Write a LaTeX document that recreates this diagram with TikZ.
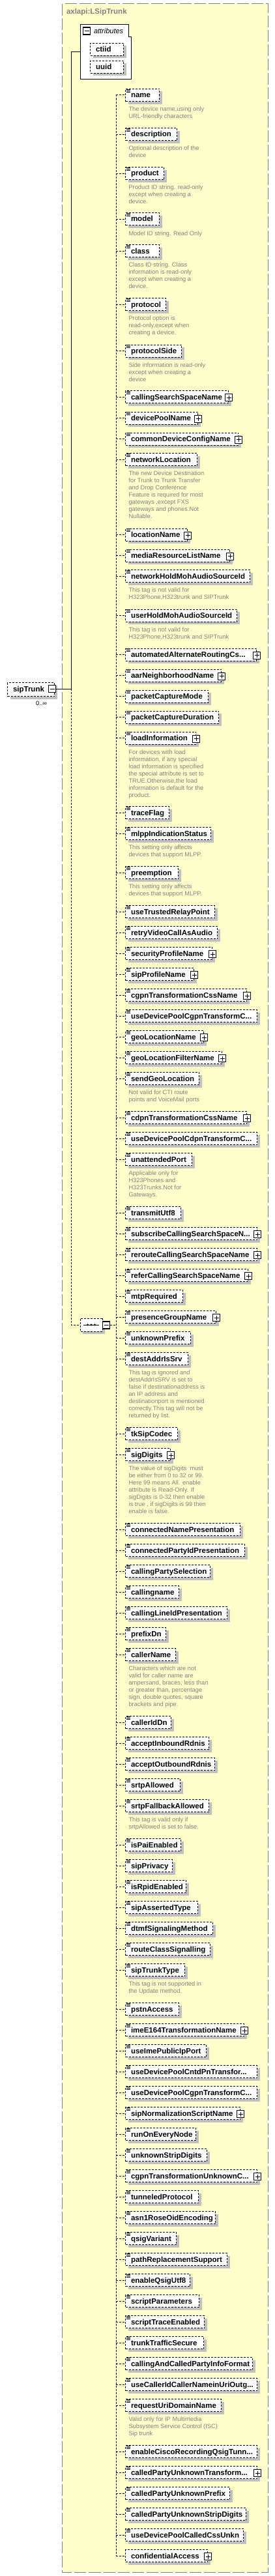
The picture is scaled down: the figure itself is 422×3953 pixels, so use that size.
\documentclass[tikz,border=0pt]{standalone}
\usepackage{fontspec}
\setmainfont{Liberation Sans}
\usetikzlibrary{positioning,shadows,shapes.misc,calc}
\definecolor{xsdYellow}{HTML}{FFFFCC}
\definecolor{xsdFrame}{HTML}{808080}
\definecolor{xsdShadow}{HTML}{C0C0C0}
\definecolor{xsdDoc}{HTML}{808080}
\newcommand{\xsdcut}{...}

\begin{document}
\begin{tikzpicture}[x=1pt,y=-1pt,line width=1pt]
  \tikzset{
    elem/.style={draw,dash pattern=on 3pt off 2pt,fill=white,anchor=north west,
      inner xsep=8.5pt,inner ysep=0pt,minimum height=19pt,text height=9pt,text depth=1.4pt,
      font=\bfseries\fontsize{11.5}{13}\selectfont,
      drop shadow={fill=xsdShadow,opacity=1,shadow xshift=4pt,shadow yshift=-4pt}},
    doc/.style={anchor=north west,inner sep=0pt,align=left,text=xsdDoc,
      font=\fontsize{9.3}{11}\selectfont,execute at begin node=\strut},
    signbox/.style={draw,solid,fill=white,minimum size=11pt,inner sep=0pt,line width=1.2pt},
    link/.style={dash pattern=on 3pt off 2pt},
    title/.style={anchor=west,inner sep=0pt,text=xsdFrame,font=\bfseries\fontsize{11.5}{13}\selectfont}
  }
  \useasboundingbox (0,0) rectangle (422,3953);
  % complex type frame
  \draw[xsdFrame,fill=xsdYellow,dash pattern=on 18pt off 4pt] (95.5,6) rectangle (411.5,3947);
  \node[title] (ttl) at (101.5,19) {axlapi:LSipTrunk};

  % attributes group
  \draw[fill=white] (123,38) -| (197,57) -| (201,122) -- (123,122) -- cycle;
  \coordinate (attr) at (123,80);
  \node[signbox] (am) at (133,47.5) {};
  \draw (am.center) ++(-3.5,0) -- ++(7,0);
  \node[anchor=west,inner sep=0pt,font=\itshape\fontsize{11}{13}\selectfont] (atl) at (143.5,48) {attributes};
  \node[elem] (a1) at (138,66) {\makebox[34pt][l]{ctiid}};
  \node[elem] (a2) at (138,92.7) {\makebox[34pt][l]{uuid}};

  % the element
  \node[elem,minimum height=21pt] (tm) at (11,1047) {\makebox[55pt][l]{sipTrunk}};
  \node[signbox] (tmm) at (80,1057) {};
  \draw (tmm.center) ++(-3.5,0) -- ++(7,0);
  \node[font=\fontsize{9.3}{11}\selectfont,inner sep=0pt] (card) at (63.5,1079) {0..∞};

  % sequence
  \node[draw,link,fill=white,chamfered rectangle,chamfered rectangle xsep=5pt,chamfered rectangle ysep=5pt,
    minimum width=34pt,minimum height=20pt,inner sep=0pt,
    drop shadow={fill=xsdShadow,opacity=1,shadow xshift=4pt,shadow yshift=-4pt}] (seq) at (140,2033) {};
  \draw (seq.center) ++(-12,0) -- ++(24,0);
  \foreach \d in {-5.5,0,5.5} \fill (seq.center) ++(\d,0) circle (1.6);
  \node[signbox] (sm) at (163,2033.5) {};
  \draw (sm.center) ++(-3.5,0) -- ++(7,0);

  \coordinate (trunk) at (109,0);
  \coordinate (bus) at (178,0);
  \draw (attr) -- (attr -| trunk) -- (tmm.east -| trunk) -- (tmm.east);
  \draw[link] (tmm.east -| trunk) |- (seq.west);
  \draw[link] (sm.east) -- (sm.east -| bus);
  \draw[link] (bus |- 0,145.5) -- (bus |- 0,3922);

  % child elements
  \foreach \t/\r/\p/\txt [count=\k] in {
    136/244/0/name, 196/271/0/description, 256/251/0/product, 326/244/0/model,
    375.3/244/0/class, 457.3/254/0/protocol, 528.7/278/0/protocolSide,
    599.3/350/1/callingSearchSpaceName, 631.7/303/1/devicePoolName,
    663.7/365/1/commonDeviceConfigName, 695.3/302/0/networkLocation,
    810.7/287/1/locationName, 842.7/352/1/mediaResourceListName,
    874.3/383/0/networkHoldMohAudioSourceId, 934.7/363/0/userHoldMohAudioSourceId,
    994.7/393/1/automatedAlternateRoutingCs\xsdcut, 1026.7/339/1/aarNeighborhoodName,
    1058.7/319/0/packetCaptureMode, 1090.7/335/0/packetCaptureDuration,
    1122.7/300/1/loadInformation, 1237.3/259/0/traceFlag, 1269.3/323/0/mlppIndicationStatus,
    1329.3/273/0/preemption, 1389.3/329/0/useTrustedRelayPoint,
    1421.3/333/0/retryVideoCallAsAudio, 1453.3/325/1/securityProfileName,
    1485.3/297/1/sipProfileName, 1517.3/378/1/cgpnTransformationCssName,
    1549.3/394/0/useDevicePoolCgpnTransformC\xsdcut, 1581.3/312/1/geoLocationName,
    1613.3/340/1/geoLocationFilterName, 1645.3/305/0/sendGeoLocation,
    1705.3/378/1/cdpnTransformationCssName, 1737.3/394/0/useDevicePoolCdpnTransformC\xsdcut,
    1769.3/294/0/unattendedPort, 1851.3/277/0/transmitUtf8,
    1883.3/394/1/subscribeCallingSearchSpaceN\xsdcut, 1915.3/394/1/rerouteCallingSearchSpaceName,
    1947.3/380/1/referCallingSearchSpaceName, 1979.3/280/0/mtpRequired,
    2011.3/331/1/presenceGroupName, 2043.3/292/0/unknownPrefix, 2075.3/288/0/destAddrIsSrv,
    2190.3/272/0/tkSipCodec, 2222.3/261/1/sigDigits,
    2337.3/368/0/connectedNamePresentation, 2369.3/375/0/connectedPartyIdPresentation,
    2401.3/322/0/callingPartySelection, 2433.3/274/0/callingname,
    2465.3/348/0/callingLineIdPresentation, 2497.3/254/0/prefixDn, 2529.3/269/0/callerName,
    2633.3/262/0/callerIdDn, 2665.3/320/0/acceptInboundRdnis, 2697.3/329/0/acceptOutboundRdnis,
    2729.3/276/0/srtpAllowed, 2761.3/320/0/srtpFallbackAllowed, 2821.3/277/0/isPaiEnabled,
    2853.3/264/0/sipPrivacy, 2885.3/285/0/isRpidEnabled, 2917.3/303/0/sipAssertedType,
    2949.3/326/0/dtmfSignalingMethod, 2981.3/322/0/routeClassSignalling,
    3013.3/283/0/sipTrunkType, 3073.3/274/0/pstnAccess,
    3105.3/374/1/imeE164TransformationName, 3137.3/316/0/useImePublicIpPort,
    3169.3/394/0/useDevicePoolCntdPnTransfor\xsdcut, 3201.3/394/0/useDevicePoolCgpnTransformC\xsdcut,
    3233.3/368/1/sipNormalizationScriptName, 3265.3/300/0/runOnEveryNode,
    3297.3/317/0/unknownStripDigits, 3329.3/394/1/cgpnTransformationUnknownC\xsdcut,
    3361.3/304/0/tunneledProtocol, 3393.3/330/0/asn1RoseOidEncoding,
    3425.3/270/0/qsigVariant, 3457.3/348/0/pathReplacementSupport,
    3489.3/291/0/enableQsigUtf8, 3521.3/305/0/scriptParameters,
    3553.3/313/0/scriptTraceEnabled, 3585.3/312/0/trunkTrafficSecure,
    3617.3/387/0/callingAndCalledPartyInfoFormat, 3649.3/394/0/useCallerIdCallerNameinUriOutg\xsdcut,
    3681.3/339/0/requestUriDomainName, 3752.3/394/0/enableCiscoRecordingQsigTunn\xsdcut,
    3784.3/394/1/calledPartyUnknownTransform\xsdcut, 3816.3/352/0/calledPartyUnknownPrefix,
    3848.3/377/0/calledPartyUnknownStripDigits, 3880.3/373/0/useDevicePoolCalledCssUnkn,
    3912.3/318/1/confidentialAccess} {
    \pgfmathsetmacro\bw{\r-209}
    \node[elem] (e\k) at (192,\t) {\makebox[\bw pt][l]{\txt}};
    \draw[link] (e\k.west -| bus) -- (e\k.west);
    \ifnum\k<90
      \foreach \d in {1,3,5} \draw[solid,line width=0.9pt] (e\k.north west) ++(2,\d) -- ++(6,0);
    \fi
    \ifnum\p=1
      \node[signbox] (p\k) at ([yshift=-1pt]e\k.east) {};
      \draw (p\k.center) ++(-3.5,0) -- ++(7,0) (p\k.center) ++(0,-3.5) -- ++(0,7);
    \fi
  }

  % annotations
  \foreach \k/\txt in {
    1/{The device name,using only\\URL-friendly characters},
    2/{Optional description of the\\device},
    3/{Product ID string. read-only\\except when creating a\\device.},
    4/{Model ID string. Read Only},
    5/{Class ID string. Class\\information is read-only\\except when creating a\\device.},
    6/{Protocol option is\\read-only,except when\\creating a device.},
    7/{Side information is read-only\\except when creating a\\device},
    11/{The new Device Destination\\for Trunk to Trunk Transfer\\and Drop Conference\\Feature is required for most\\gateways ,except FXS\\gateways and phones.Not\\Nullable.},
    14/{This tag is not valid for\\H323Phone,H323trunk and SIPTrunk},
    15/{This tag is not valid for\\H323Phone,H323trunk and SIPTrunk},
    20/{For devices with load\\information, if any special\\load information is specified\\the special attribute is set to\\TRUE.Otherwise,the load\\information is default for the\\product.},
    22/{This setting only affects\\devices that support MLPP.},
    23/{This setting only affects\\devices that support MLPP.},
    32/{Not valid for CTI route\\points and VoiceMail ports},
    35/{Applicable only for\\H323Phones and\\H323Trunks.Not for\\Gateways.},
    43/{This tag is ignored and\\destAddrIsSRV is set to\\false if destinationaddress is\\an IP address and\\destinationport is mentioned\\correctly.This tag will not be\\returned by list.},
    45/{The value of sigDigits\ \ must\\be either from 0 to 32 or 99.\\Here 99 means All. enable\\attribute is Read-Only. If\\sigDigits is 0-32 then enable\\is true , if sigDigits is 99 then\\enable is false.},
    52/{Characters which are not\\valid for caller name are\\ampersand, braces, less than\\or greater than, percentage\\sign, double quotes, square\\brackets and pipe.},
    57/{This tag is valid only if\\srtpAllowed is set to false.},
    64/{This tag is not supported in\\the Update method.},
    84/{Valid only for IP Multimedia\\Subsystem Service Control (ISC)\\Sip trunk}} {
    \node[doc] (d\k) at ([shift={(5,7.3)}]e\k.south west) {\txt};
  }
\end{tikzpicture}
\end{document}
